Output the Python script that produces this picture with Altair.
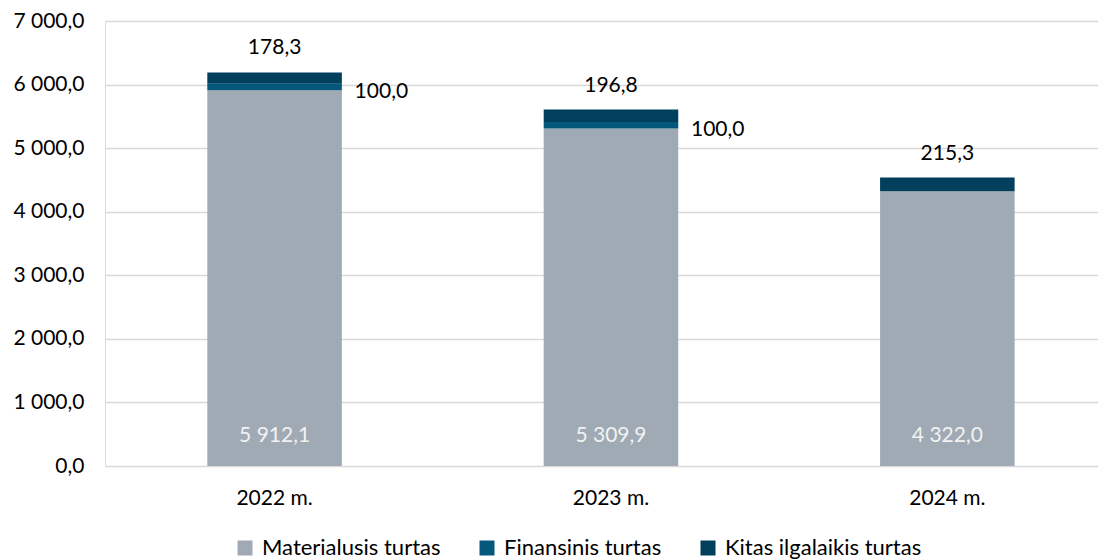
import altair as alt
import pandas as pd

years = ["2022 m.", "2023 m.", "2024 m."]
series = ["Materialusis turtas", "Finansinis turtas", "Kitas ilgalaikis turtas"]
materialusis = [5912.1, 5309.9, 4322.0]
finansinis = [100.0, 100.0, 0.0]
kitas = [178.3, 196.8, 215.3]
colors = ["#A0AAB4", "#04587B", "#013F5C"]

rows = []
for i, y in enumerate(years):
    vals = [materialusis[i], finansinis[i], kitas[i]]
    base = 0.0
    for k, s in enumerate(series):
        rows.append({"year": y, "series": s, "order": k, "value": vals[k],
                     "y0": base, "y1": base + vals[k], "mid": base + vals[k] / 2})
        base += vals[k]
df = pd.DataFrame(rows)

fmt = "replace(replace(format(datum.value, ',.1f'), ',', ' '), '.', ',')"

FONT = "Lato"
FS = 21

x = alt.X("year:N", title=None, sort=years,
          scale=alt.Scale(paddingInner=0.6, paddingOuter=0.276, align=0.551),
          axis=alt.Axis(labelAngle=0, ticks=False, domain=False, labelPadding=21,
                        labelFontSize=FS, labelColor="#000000", labelFont=FONT))

base = alt.Chart(df)

bars = base.mark_bar().encode(
    x=x,
    y=alt.Y("y0:Q", title=None,
            scale=alt.Scale(domain=[0, 7000], nice=False),
            axis=alt.Axis(values=[0, 1000, 2000, 3000, 4000, 5000, 6000, 7000],
                          labelExpr="replace(replace(format(datum.value, ',.1f'), ',', ' '), '.', ',')",
                          ticks=False, domain=False, labelPadding=21,
                          labelFontSize=FS, labelColor="#000000", labelFont=FONT,
                          gridColor="#D9D9D9", gridWidth=1.3)),
    y2="y1:Q",
    color=alt.Color("series:N", sort=series,
                    scale=alt.Scale(domain=series, range=colors),
                    legend=alt.Legend(title=None, orient="none", direction="horizontal",
                                      legendX=129, legendY=516,
                                      symbolType="square", symbolSize=225,
                                      symbolStrokeWidth=0, labelFontSize=22,
                                      labelFont=FONT, labelColor="#000000",
                                      labelLimit=500,
                                      labelOffset=6, columnPadding=35)),
    order="order:Q",
)

mat_labels = base.transform_filter("datum.order == 0").transform_calculate(
    label=fmt, zero="0"
).mark_text(color="#F2F2F2", fontSize=FS, font=FONT, dy=-30, baseline="middle").encode(
    x=alt.X("year:N", sort=years), y=alt.Y("zero:Q"), text="label:N")

fin_labels = base.transform_filter("datum.order == 1 && datum.value > 0").transform_calculate(
    label=fmt
).mark_text(color="#000000", fontSize=FS, font=FONT, align="left", dx=80, dy=5,
            baseline="middle").encode(
    x=alt.X("year:N", sort=years), y=alt.Y("mid:Q"), text="label:N")

kit_labels = base.transform_filter("datum.order == 2").transform_calculate(
    label=fmt
).mark_text(color="#000000", fontSize=FS, font=FONT, dy=-24, baseline="middle").encode(
    x=alt.X("year:N", sort=years), y=alt.Y("y1:Q"), text="label:N")

chart = alt.layer(bars, mat_labels, fin_labels, kit_labels).properties(
    width=993, height=445,
    autosize=alt.AutoSizeParams(type="none"),
    padding={"left": 97, "top": 13, "right": 0, "bottom": 94},
).configure_view(stroke=None).configure(background="#FFFFFF")

chart.save("out.html", embed_options={"renderer": "svg", "actions": False})
